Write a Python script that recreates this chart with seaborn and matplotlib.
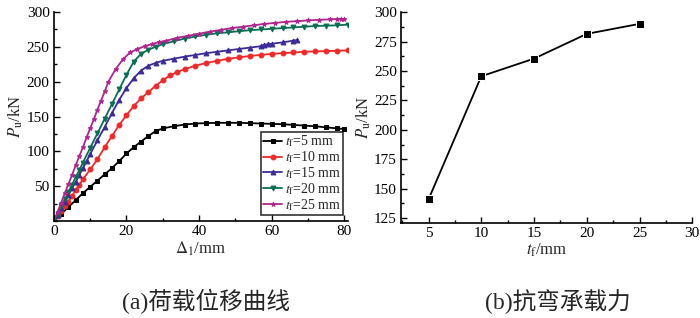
import matplotlib
matplotlib.use("Agg")
import matplotlib.pyplot as plt
from matplotlib.ticker import MultipleLocator
import seaborn as sns
import numpy as np

# load-displacement curves, one per flange thickness
x_5 = [0, 2, 4, 6, 8, 10, 12, 14, 16, 18, 20, 22, 24, 26, 28, 30, 33, 36, 39, 42, 45,
       48, 51, 54, 57, 60, 63, 66, 69, 72, 75, 78, 80]
y_5 = [0, 10, 20, 30, 40, 49, 58, 67, 76, 86, 97, 106, 114, 122, 129, 133, 136, 138.5,
       140, 140.5, 141, 141, 141, 140.5, 140, 139.5, 139, 138, 137, 136, 134.5, 133, 132]

x_10 = [0, 1, 2, 3, 4, 5, 6, 7, 8, 10, 12, 14, 16, 18, 20, 22, 24, 26, 28, 30, 32, 34,
        36, 39, 42, 45, 48, 51, 54, 57, 60, 63, 66, 69, 72, 75, 78, 81]
y_10 = [0, 7, 14, 21, 28, 36, 44, 52, 60, 74, 89, 106, 122, 138, 152, 165, 176, 185,
        194, 202, 209, 214, 218, 223, 227, 230, 233, 235, 237, 238.5, 240, 241, 242,
        243, 243.5, 244, 244.5, 245]

x_15 = [0, 1, 2, 3, 4, 5, 6, 7, 8, 9, 10, 12, 14, 16, 18, 20, 22, 24, 26, 28, 30, 33,
        36, 39, 42, 45, 48, 51, 54, 57, 58, 59, 60, 63, 66, 67]
y_15 = [0, 9, 18, 27, 37, 47, 56, 66, 76, 86, 96, 116, 135, 155, 174, 191, 205, 216,
        223, 227, 230, 233, 236, 238.5, 241, 243, 245, 247, 249, 251, 253, 254, 254.5,
        256.5, 259, 260]

x_20 = [0, 1, 2, 3, 4, 5, 6, 7, 8, 10, 12, 14, 16, 18, 20, 22, 24, 26, 28, 30, 33, 36,
        39, 42, 45, 48, 51, 54, 57, 60, 63, 66, 69, 72, 75, 78, 81]
y_20 = [0, 10, 21, 31, 42, 52, 63, 73, 84, 105, 126, 147, 168, 189, 210, 229, 240, 246,
        250, 254, 258, 262, 265, 267.5, 269.5, 271, 272.5, 274, 275, 276, 277, 278, 279,
        280, 280.5, 281, 282]

x_25 = [0, 1, 2, 3, 4, 5, 6, 7, 8, 9, 10, 11, 12, 13, 14, 15, 17, 19, 21, 23, 25, 27,
        29, 31, 34, 37, 40, 43, 46, 49, 52, 55, 58, 61, 64, 67, 70, 73, 76, 78, 79, 80]
y_25 = [0, 13, 26, 40, 53, 66, 80, 93, 106, 120, 133, 146, 160, 173, 186, 200, 218, 232,
        242, 247, 251, 254, 257, 259, 263, 266, 269, 272, 274.5, 277, 279, 281, 283,
        284.5, 286, 287, 288, 289, 289.5, 290, 290, 290]

# ultimate bending capacity vs flange thickness
tf = [5, 10, 15, 20, 25]
pu = [141, 245.5, 260.5, 281.5, 290]

curve_labels = [r"$t_\mathrm{f}$=5 mm", r"$t_\mathrm{f}$=10 mm", r"$t_\mathrm{f}$=15 mm",
                r"$t_\mathrm{f}$=20 mm", r"$t_\mathrm{f}$=25 mm"]

sns.set_style("ticks")
plt.rcParams["font.family"] = ["Liberation Serif", "Noto Sans CJK SC"]
plt.rcParams["mathtext.fontset"] = "stix"
plt.rcParams["xtick.direction"] = "in"
plt.rcParams["ytick.direction"] = "in"

fig = plt.figure(figsize=(7, 3.18), dpi=100)
ax1 = fig.add_axes([0.077, 0.305, 0.42, 0.657])
ax2 = fig.add_axes([0.573, 0.299, 0.416, 0.663])

curves = [(x_5, y_5), (x_10, y_10), (x_15, y_15), (x_20, y_20), (x_25, y_25)]
colors = ["black", "#f02828", "#3c2a98", "#0a6e52", "#b02590"]
markers = ["s", "o", "^", "v", "*"]

for (xs, ys), c, m, lab in zip(curves, colors, markers, curve_labels):
    sns.lineplot(x=xs, y=ys, ax=ax1, color=c, marker=m, markersize=3.5,
                 markeredgecolor=c, linewidth=1.3, label=lab, sort=False)

ax1.set_xlim(0, 81)
ax1.set_ylim(0, 300)
ax1.set_xticks([0, 20, 40, 60, 80])
ax1.set_yticks([50, 100, 150, 200, 250, 300])
ax1.xaxis.set_minor_locator(MultipleLocator(10))
ax1.yaxis.set_minor_locator(MultipleLocator(25))
ax1.set_xlabel(r"$\mathit{\Delta}_1$/mm", fontsize=12, labelpad=1)
ax1.set_ylabel(r"$P_\mathrm{u}$/kN", fontsize=12, labelpad=1)
leg = ax1.legend(loc="lower right", bbox_to_anchor=(0.985, 0.03), borderaxespad=0,
                 fontsize=10, handlelength=1.4, handletextpad=0.2,
                 labelspacing=0.0, borderpad=0.15, fancybox=False, frameon=True)
leg.get_frame().set_edgecolor("black")
leg.get_frame().set_linewidth(1.2)

sns.lineplot(x=tf, y=pu, ax=ax2, color="black", marker="s", markersize=6,
             linewidth=1.3)
ax2.set_xlim(2.4, 30)
ax2.set_ylim(121, 300)
ax2.set_xticks([5, 10, 15, 20, 25, 30])
ax2.set_yticks([125, 150, 175, 200, 225, 250, 275, 300])
ax2.xaxis.set_minor_locator(MultipleLocator(2.5))
ax2.yaxis.set_minor_locator(MultipleLocator(12.5))
ax2.set_xlabel(r"$t_\mathrm{f}$/mm", fontsize=12, labelpad=1)
ax2.set_ylabel(r"$P_\mathrm{u}$/kN", fontsize=12, labelpad=1)

for ax in (ax1, ax2):
    sns.despine(ax=ax)
    for s in ("left", "bottom"):
        ax.spines[s].set_linewidth(1.2)
        ax.spines[s].set_color("black")
    ax.tick_params(which="major", length=4, width=1, labelsize=11, colors="black", pad=3)
    ax.tick_params(which="minor", length=2.5, width=1, colors="black")

fig.text(0.294, 0.053, "(a)荷载位移曲线", ha="center", va="center", fontsize=17)
fig.text(0.797, 0.053, "(b)抗弯承载力", ha="center", va="center", fontsize=17)

fig.savefig("out.png", dpi=100)
